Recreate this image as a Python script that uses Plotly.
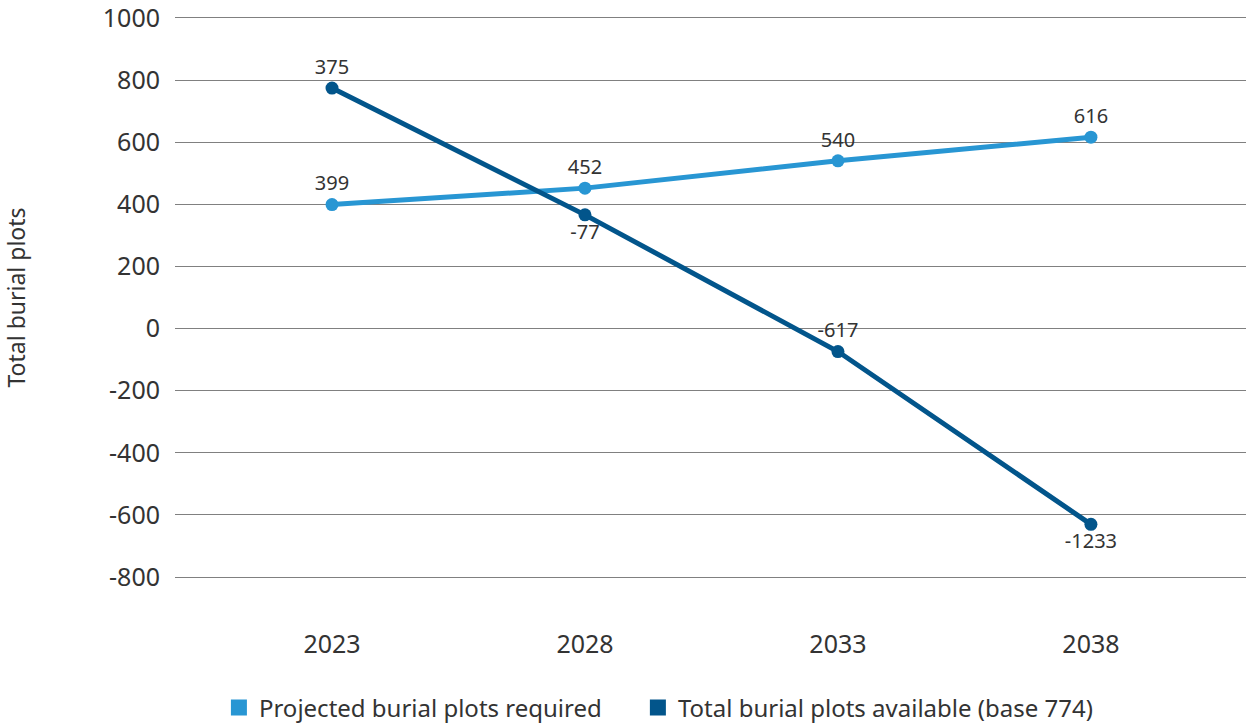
import plotly.graph_objects as go

# Chart data
years = ["2023", "2028", "2033", "2038"]
required = [399, 452, 540, 616]                 # projected burial plots required
available = [774, 366, -74, -630]               # total burial plots available (base 774)
available_labels = ["375", "-77", "-617", "-1233"]  # balance after each period's demand
y_ticks = [1000, 800, 600, 400, 200, 0, -200, -400, -600, -800]

LIGHT = "#2896d3"
DARK = "#02558b"
TEXT = "#333333"
FONT = "Noto Sans"

x_idx = list(range(len(years)))

fig = go.Figure()

fig.add_trace(go.Scatter(
    x=x_idx, y=required, mode="lines+markers+text",
    line=dict(color=LIGHT, width=5),
    marker=dict(color=LIGHT, size=13),
    text=[str(v) for v in required], textposition="top center",
    textfont=dict(family=FONT, size=20, color=TEXT),
    showlegend=False, cliponaxis=False,
))

fig.add_trace(go.Scatter(
    x=x_idx, y=available, mode="lines+markers+text",
    line=dict(color=DARK, width=5),
    marker=dict(color=DARK, size=13),
    text=available_labels,
    textposition=["top center", "bottom center", "top center", "bottom center"],
    textfont=dict(family=FONT, size=20, color=TEXT),
    showlegend=False, cliponaxis=False,
))

# Square legend keys, one legend box each
fig.add_trace(go.Scatter(
    x=[None], y=[None], mode="markers", name="Projected burial plots required",
    marker=dict(color=LIGHT, size=17, symbol="square"), legend="legend",
))
fig.add_trace(go.Scatter(
    x=[None], y=[None], mode="markers", name="Total burial plots available (base 774)",
    marker=dict(color=DARK, size=17, symbol="square"), legend="legend2",
))

legend_style = dict(
    orientation="h", xanchor="left",
    yref="container", y=0.021, yanchor="middle",
    font=dict(family=FONT, size=24, color=TEXT),
    itemsizing="trace", bgcolor="rgba(0,0,0,0)",
)

fig.update_layout(
    width=1246, height=723,
    margin=dict(l=175, r=0, t=16, b=144),
    paper_bgcolor="white", plot_bgcolor="white",
    font=dict(family=FONT, color=TEXT, size=25),
    xaxis=dict(
        range=[-0.6206, 3.613],
        tickmode="array", tickvals=x_idx, ticktext=years,
        showgrid=False, zeroline=False, showline=False,
        ticks="", ticklabelstandoff=48,
        tickfont=dict(family=FONT, size=25, color=TEXT),
    ),
    yaxis=dict(
        range=[-806, 1006],
        tickmode="array", tickvals=y_ticks, ticktext=[str(v) for v in y_ticks],
        showgrid=True, gridcolor="#808080", gridwidth=1,
        zeroline=False, showline=False, ticks="",
        ticklabelstandoff=14, ticklabeloverflow="allow",
        tickfont=dict(family=FONT, size=25, color=TEXT),
        title=dict(text="Total burial plots", standoff=72,
                   font=dict(family=FONT, size=23, color=TEXT)),
    ),
    legend=dict(x=0.041, **legend_style),
    legend2=dict(x=0.4322, **legend_style),
)

fig.write_html("out.html")
